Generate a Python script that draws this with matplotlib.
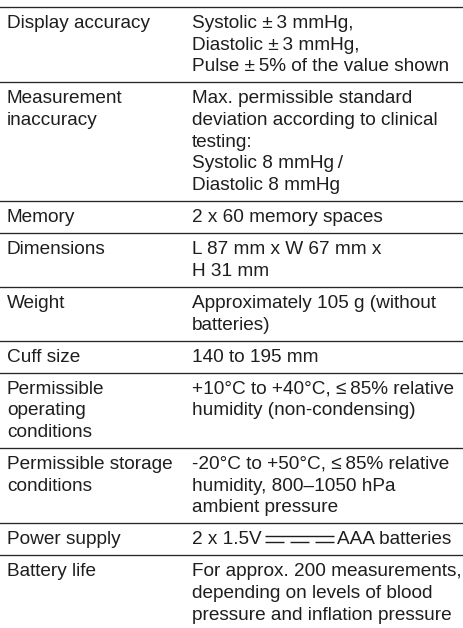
import matplotlib.pyplot as plt

plt.rcParams['font.family'] = ['Liberation Sans', 'DejaVu Sans']

# contenu du tableau (colonne gauche / colonne droite)
labels = [
    "Display accuracy",
    "Measurement\ninaccuracy",
    "Memory",
    "Dimensions",
    "Weight",
    "Cuff size",
    "Permissible\noperating\nconditions",
    "Permissible storage\nconditions",
    "Power supply",
    "Battery life",
]
values = [
    "Systolic \u00b1\u20093 mmHg,\nDiastolic \u00b1\u20093 mmHg,\nPulse \u00b1\u20095% of the value shown",
    "Max. permissible standard\ndeviation according to clinical\ntesting:\nSystolic 8 mmHg\u2009/\nDiastolic 8 mmHg",
    "2 x 60 memory spaces",
    "L 87 mm x W 67 mm x\nH 31 mm",
    "Approximately 105 g (without\nbatteries)",
    "140 to 195 mm",
    "+10\u00b0C to +40\u00b0C, \u2264\u200985% relative\nhumidity (non-condensing)",
    "-20\u00b0C to +50\u00b0C, \u2264\u200985% relative\nhumidity, 800\u20131050 hPa\nambient pressure",
    "2 x 1.5V {dc} AAA batteries",
    "For approx. 200 measurements,\ndepending on levels of blood\npressure and inflation pressure",
]

W, H = 464, 628
fig = plt.figure(figsize=(W / 100, H / 100), dpi=100)
ax = fig.add_axes([0, 0, 1, 1])
ax.set_xlim(0, W)
ax.set_ylim(H, 0)
ax.axis("off")

txt_color = "#1e1e1e"
rule_color = "#262626"
fs = 13.7
x_lab, x_val = 7, 192
line_h = 21.7
pad_top, pad_bot = 21, 11


def rule(y):
    ax.axhline(y, color=rule_color, lw=0.95)


def put(x, y, s):
    return ax.text(x, y, s, fontsize=fs, color=txt_color, va="baseline", ha="left")


renderer = fig.canvas.get_renderer()
inv = ax.transData.inverted()

y = 7
rule(y)
for lab, val in zip(labels, values):
    lab_lines = lab.split("\n")
    val_lines = val.split("\n")
    n = max(len(lab_lines), len(val_lines))
    base = y + pad_top
    for i, t in enumerate(lab_lines):
        put(x_lab, base + i * line_h, t)
    for i, t in enumerate(val_lines):
        yy = base + i * line_h
        if "{dc}" in t:
            avant, apres = t.split(" {dc} ")
            t1 = put(x_val, yy, avant)
            bb = t1.get_window_extent(renderer)
            x0 = inv.transform((bb.x1, 0))[0] + 3
            # symbole courant continu : trait plein + 3 tirets
            w_sym = 69
            ax.plot([x0, x0 + w_sym], [yy - 8.3, yy - 8.3], color=txt_color, lw=1.0,
                    solid_capstyle="butt")
            d = (w_sym - 2 * 6) / 3
            for k in range(3):
                xs = x0 + k * (d + 6)
                ax.plot([xs, xs + d], [yy - 2.3, yy - 2.3], color=txt_color, lw=1.0,
                        solid_capstyle="butt")
            put(x0 + w_sym + 3, yy, apres)
        else:
            put(x_val, yy, t)
    y = base + (n - 1) * line_h + pad_bot
    if lab != labels[-1]:
        rule(y)

fig.savefig("out.png", dpi=100)
